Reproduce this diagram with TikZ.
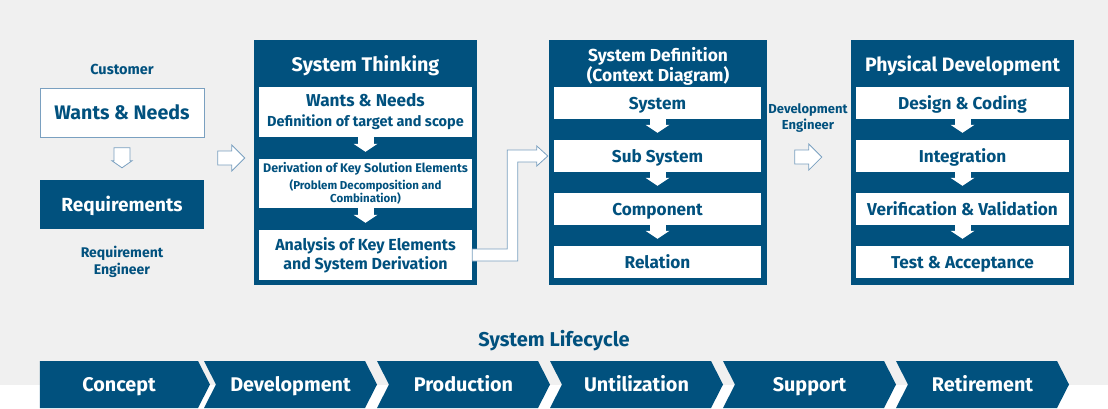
\documentclass[tikz,border=0pt]{standalone}
\usepackage{fontspec}
\setmainfont{Fira Sans}
\usepackage{tikz}
\usetikzlibrary{shapes,arrows,arrows.meta}
\definecolor{sysblue}{RGB}{1,81,126}
\definecolor{edgeblue}{RGB}{122,160,192}
\definecolor{bggray}{RGB}{240,240,240}
\newcommand{\fsz}[2]{\fontsize{#1}{#2}\selectfont}
\tikzstyle{panel} = [rectangle, fill=sysblue, minimum height=245pt, inner sep=0pt]
\tikzstyle{block} = [rectangle, fill=white, text=sysblue, text centered, align=center,
    inner sep=0pt, font=\bfseries]
\tikzstyle{line block} = [block, font=\bfseries\fsz{17.2}{19}, text height=12pt, text depth=0pt]
\tikzstyle{darkblock} = [rectangle, fill=sysblue, text=white, text centered, inner sep=0pt,
    font=\bfseries]
\tikzstyle{title} = [text=white, align=center, font=\bfseries]
\tikzstyle{caption} = [text=sysblue, align=center, font=\bfseries]
\tikzstyle{phase} = [signal, signal to=east, signal from=west, signal pointer angle=126,
    fill=sysblue, text=white, minimum height=47pt, inner sep=0pt,
    font=\bfseries\fsz{19.8}{21}, text height=14pt, text depth=0pt]
\tikzstyle{hollow} = [draw=edgeblue, fill=white, line width=0.8pt]
\tikzstyle{flow} = [draw=white, line width=16pt, shorten >=7pt,
    -{Triangle[width=24pt,length=8pt,line width=0pt]}]
\newcommand{\hollowright}[1]{\path[hollow] #1 -- ++(-13,-13) -- ++(0,6) -- ++(-14,0)
    -- ++(0,14) -- ++(14,0) -- ++(0,6) -- cycle;}

\begin{document}
\begin{tikzpicture}[x=1pt, y=-1pt, node distance=53pt]
  \fill[bggray] (0,0) rectangle (1108,385);
  \useasboundingbox (0,0) rectangle (1108,408);
    % Place nodes
    \node [caption, font=\bfseries\fsz{14.5}{16}] (customer) at (122,69) {Customer};
    \node [block, draw=edgeblue, minimum width=164pt, minimum height=49pt, font=\bfseries\fsz{19.6}{21},
      text height=13.5pt, text depth=0pt, below of=customer, node distance=43.5pt] (wants) {Wants \& Needs};
    \node [darkblock, minimum width=164pt, minimum height=49pt, font=\bfseries\fsz{19}{21},
      text height=13pt, text depth=0pt, below of=wants, node distance=92pt] (req) {Requirements};
    \node [caption, font=\bfseries\fsz{14}{17}, below of=req, node distance=57pt] (reqEng)
      {Requirement\\Engineer};

    \node [panel, minimum width=223pt] (think) at (365.5,162.5) {};
    \node [title, font=\bfseries\fsz{19.7}{20}] (thinkTitle) at (365.5,66) {System Thinking};
    \node [block, minimum width=213pt, minimum height=50pt, font=\bfseries\fsz{14}{20}] (wantsDef)
      at (365.5,112) {{\fsz{17.2}{20}Wants \& Needs}\\{\fsz{14.5}{20}Definition of target and scope}};
    \node [block, minimum width=213pt, minimum height=49pt, font=\bfseries\fsz{11.5}{12},
      below of=wantsDef, node distance=71.5pt] (derive)
      {{\fsz{12.5}{12}Derivation of Key Solution Elements}\\[3pt]
      {\fsz{11.5}{12}(Problem Decomposition and}\\{\fsz{11.5}{12}Combination)}};
    \node [block, minimum width=213pt, minimum height=50pt, font=\bfseries\fsz{16}{19},
      below of=derive, node distance=71.5pt] (analysis) {Analysis of Key Elements\\and System Derivation};

    \node [panel, minimum width=218pt] (define) at (658,162.5) {};
    \node [title, font=\bfseries\fsz{17.4}{20}] (defineTitle) at (658,66)
      {System Definition\\(Context Diagram)};
    \node [line block, minimum width=207pt, minimum height=32pt] (system) at (657.5,103) {System};
    \node [line block, minimum width=207pt, minimum height=32pt, below of=system] (subSystem) {Sub System};
    \node [line block, minimum width=207pt, minimum height=32pt, below of=subSystem] (component) {Component};
    \node [line block, minimum width=207pt, minimum height=32pt, below of=component] (relation) {Relation};

    \node [caption, font=\bfseries\fsz{13}{16}] (devEng) at (808,118) {Development\\Engineer};

    \node [panel, minimum width=223pt] (physical) at (962.5,162.5) {};
    \node [title, font=\bfseries\fsz{19.4}{20}] (physicalTitle) at (962.5,66) {Physical Development};
    \node [line block, minimum width=213pt, minimum height=32pt] (design) at (962.5,103) {Design \& Coding};
    \node [line block, minimum width=213pt, minimum height=32pt, below of=design] (integration) {Integration};
    \node [line block, minimum width=213pt, minimum height=32pt, below of=integration] (verify)
      {Verification \& Validation};
    \node [line block, minimum width=213pt, minimum height=32pt, below of=verify] (test) {Test \& Acceptance};

    % Lifecycle
    \node [caption, font=\bfseries\fsz{20}{21}] (lifecycle) at (554,341) {System Lifecycle};
    \node [phase, signal from=nowhere, minimum width=170pt] (concept) at (119,384.5) {Concept};
    \node [phase, minimum width=173pt, right of=concept, node distance=171.5pt] (development) {Development};
    \node [phase, minimum width=173pt, right of=development, node distance=173pt] (production) {Production};
    \node [phase, minimum width=173pt, right of=production, node distance=173pt] (utilization) {Untilization};
    \node [phase, minimum width=173pt, right of=utilization, node distance=173pt] (support) {Support};
    \node [phase, minimum width=173pt, right of=support, node distance=173pt] (retirement) {Retirement};

    % Draw edges
    \path [flow] (wantsDef) -- (derive);
    \path [flow] (derive) -- (analysis);
    \path [flow] (system) -- (subSystem);
    \path [flow] (subSystem) -- (component);
    \path [flow] (component) -- (relation);
    \path [flow] (design) -- (integration);
    \path [flow] (integration) -- (verify);
    \path [flow] (verify) -- (test);

    % hollow arrows
    \path [hollow] ([yshift=12pt]req.north) -- ++(-10,-7) -- ++(2,0) -- ++(0,-13) -- ++(16,0)
      -- ++(0,13) -- ++(2,0) -- cycle;
    \hollowright{([xshift=-9pt,yshift=4.5pt]think.west)}
    \hollowright{([xshift=-29pt,yshift=5.5pt]physical.west)}
    \path [hollow] ([yshift=6pt]analysis.east) -- ++(35,0) |- ([xshift=-17pt,yshift=6pt]subSystem.west)
      -- ++(0,-4) -- ([xshift=-6pt]subSystem.west) -- ([xshift=-17pt,yshift=-10pt]subSystem.west)
      -- ++(0,-4) -- ++(-19,0) |- ([yshift=-6pt]analysis.east) -- cycle;
\end{tikzpicture}
\end{document}
